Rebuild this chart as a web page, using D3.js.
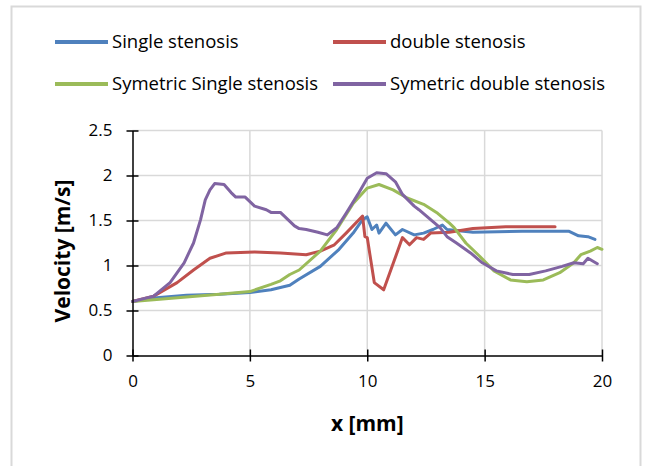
<!DOCTYPE html>
<html><head><meta charset="utf-8">
<script src="https://cdn.jsdelivr.net/npm/d3@7"></script>
<style>html,body{margin:0;padding:0;background:#fff;}svg{display:block;font-family:"Open Sans",Lato,sans-serif;}</style>
</head><body>
<svg id="c" width="645" height="466"></svg>
<script>
const seriesNames = ["Single stenosis", "double stenosis", "Symetric Single stenosis", "Symetric double stenosis"];
const seriesColors = ["#4F81BD", "#C0504D", "#9BBB59", "#8064A2"];

const singleX = [0, 0.9, 2.3, 3.7, 5.0, 5.9, 6.7, 7.1, 8.0, 8.8, 9.4, 9.8, 10.0, 10.2, 10.4, 10.5, 10.8, 11.2, 11.5, 12.0, 12.4, 12.8, 13.2, 13.4, 14.5, 16.6, 18.6, 19.0, 19.4, 19.7];
const singleY = [0.60, 0.64, 0.67, 0.68, 0.70, 0.73, 0.78, 0.85, 0.99, 1.18, 1.36, 1.51, 1.54, 1.40, 1.45, 1.36, 1.47, 1.34, 1.40, 1.34, 1.36, 1.40, 1.45, 1.40, 1.37, 1.38, 1.38, 1.33, 1.32, 1.29];

const doubleX = [0, 0.9, 1.9, 2.6, 3.3, 4.0, 5.2, 6.3, 7.4, 8.0, 8.6, 9.1, 9.8, 9.9, 10.0, 10.3, 10.7, 11.5, 11.8, 12.1, 12.4, 12.7, 13.5, 14.5, 15.9, 18.0];
const doubleY = [0.60, 0.66, 0.81, 0.95, 1.08, 1.14, 1.15, 1.14, 1.12, 1.16, 1.23, 1.36, 1.55, 1.32, 1.31, 0.81, 0.73, 1.31, 1.23, 1.31, 1.29, 1.36, 1.37, 1.41, 1.43, 1.43];

const symSingleX = [0, 0.9, 2.3, 3.7, 5.0, 5.9, 6.3, 6.7, 7.1, 8.0, 8.7, 9.4, 10.0, 10.5, 11.1, 11.7, 12.4, 13.0, 13.5, 13.7, 14.2, 14.8, 15.4, 16.1, 16.8, 17.5, 18.2, 18.8, 19.1, 19.5, 19.8, 20.0];
const symSingleY = [0.60, 0.62, 0.65, 0.68, 0.71, 0.79, 0.83, 0.90, 0.95, 1.16, 1.40, 1.69, 1.86, 1.90, 1.84, 1.75, 1.68, 1.58, 1.47, 1.42, 1.25, 1.10, 0.94, 0.84, 0.82, 0.84, 0.92, 1.03, 1.12, 1.16, 1.20, 1.18];

const symDoubleX = [0, 0.9, 1.6, 2.2, 2.6, 2.9, 3.1, 3.3, 3.5, 3.9, 4.2, 4.4, 4.8, 5.2, 5.7, 5.9, 6.3, 6.7, 6.9, 7.1, 7.4, 7.9, 8.3, 8.7, 9.1, 9.6, 10.0, 10.4, 10.8, 11.2, 11.5, 12.0, 12.2, 12.7, 13.1, 13.4, 13.8, 14.4, 14.9, 15.5, 16.2, 16.9, 17.6, 18.3, 18.8, 19.2, 19.4, 19.8];
const symDoubleY = [0.60, 0.66, 0.81, 1.03, 1.25, 1.51, 1.73, 1.84, 1.91, 1.90, 1.81, 1.76, 1.76, 1.66, 1.62, 1.59, 1.59, 1.49, 1.44, 1.41, 1.40, 1.37, 1.34, 1.42, 1.58, 1.79, 1.97, 2.03, 2.02, 1.93, 1.79, 1.66, 1.62, 1.51, 1.42, 1.32, 1.25, 1.14, 1.03, 0.94, 0.90, 0.90, 0.94, 0.99, 1.03, 1.02, 1.08, 1.02];

const xTicks = [0, 5, 10, 15, 20];
const yTicks = [0, 0.5, 1, 1.5, 2, 2.5];
const xTitle = "x [mm]";
const yTitle = "Velocity [m/s]";

const seriesData = [
  [singleX, singleY], [doubleX, doubleY], [symSingleX, symSingleY], [symDoubleX, symDoubleY]
].map((d, i) => ({ name: seriesNames[i], color: seriesColors[i], pts: d[0].map((x, j) => [x, d[1][j]]) }));

const svg = d3.select("#c");
const L = 132.5, R = 602, T = 130.5, B = 355.5;
const x = d3.scaleLinear().domain([0, 20]).range([L, R]);
const y = d3.scaleLinear().domain([0, 2.5]).range([B, T]);

// outer border
svg.append("rect").attr("x", 11.5).attr("y", 6.5).attr("width", 629).attr("height", 470)
  .attr("fill", "#fff").attr("stroke", "#d9d9d9").attr("stroke-width", 2);

// gridlines
svg.append("g").selectAll("line").data(yTicks.filter(v => v > 0)).join("line")
  .attr("x1", L).attr("x2", R).attr("y1", d => y(d)).attr("y2", d => y(d))
  .attr("stroke", "#d9d9d9").attr("stroke-width", 1.5);
svg.append("g").selectAll("line").data(xTicks.filter(v => v > 0)).join("line")
  .attr("y1", T).attr("y2", B).attr("x1", d => x(d)).attr("x2", d => x(d))
  .attr("stroke", "#d9d9d9").attr("stroke-width", 1.5);

// series
const line = d3.line().x(d => x(d[0])).y(d => y(d[1]));
svg.append("g").selectAll("path").data(seriesData).join("path")
  .attr("d", d => line(d.pts)).attr("fill", "none").attr("stroke", d => d.color)
  .attr("stroke-width", 3).attr("stroke-linejoin", "round").attr("stroke-linecap", "round");

// axes
const xAxis = d3.axisBottom(x).tickValues(xTicks).tickSizeInner(6).tickSizeOuter(0).tickPadding(13).tickFormat(d3.format("d"));
const gx = svg.append("g").attr("transform", `translate(0,${B})`).call(xAxis);
gx.selectAll(".tick line").attr("y1", -6);
const yAxis = d3.axisLeft(y).tickValues(yTicks).tickSizeInner(6).tickSizeOuter(0).tickPadding(14).tickFormat(d => d3.format("")(d));
const gy = svg.append("g").attr("transform", `translate(${L},0)`).call(yAxis);
gy.selectAll(".tick line").attr("x1", 6);
[gx, gy].forEach(g => {
  g.select(".domain").attr("stroke", "#000").attr("stroke-width", 1.5);
  g.selectAll(".tick line").attr("stroke", "#000").attr("stroke-width", 1.5);
  g.selectAll("text").attr("font-family", "'Open Sans', sans-serif").attr("font-size", 17).attr("fill", "#000");
});
gx.selectAll("text").attr("dy", "0.71em");

// axis titles
svg.append("text").attr("x", (L + R) / 2).attr("y", 431).attr("text-anchor", "middle")
  .attr("font-weight", "bold").attr("font-size", 21).text(xTitle);
svg.append("text").attr("transform", `translate(70,${(T + B) / 2 + 8}) rotate(-90)`).attr("text-anchor", "middle")
  .attr("font-weight", "bold").attr("font-size", 21).text(yTitle);

// legend
const legPos = [[55, 42], [333, 42], [55, 84], [333, 84]];
const lg = svg.append("g").selectAll("g").data(seriesData).join("g")
  .attr("transform", (d, i) => `translate(${legPos[i][0]},${legPos[i][1]})`);
lg.append("line").attr("x1", 0).attr("x2", 53).attr("stroke", d => d.color).attr("stroke-width", 4);
lg.append("text").attr("x", 57).attr("dy", "0.35em").attr("font-size", 18.5).attr("fill", "#000").text(d => d.name);
</script>
</body></html>
